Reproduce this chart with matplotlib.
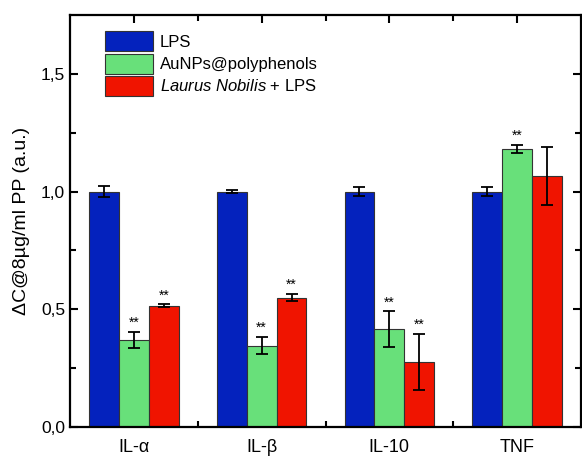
import matplotlib.pyplot as plt
import numpy as np
from matplotlib.ticker import FixedLocator, FuncFormatter

plt.rcParams['font.family'] = ['Liberation Sans', 'DejaVu Sans']
plt.rcParams['mathtext.fontset'] = 'custom'
plt.rcParams['mathtext.it'] = 'Liberation Sans:italic'
plt.rcParams['mathtext.rm'] = 'Liberation Sans'

# data
groups = ["IL-α", "IL-β", "IL-10", "TNF"]
series = ["LPS", "AuNPs@polyphenols", "$\\it{Laurus\\ Nobilis}$ + LPS"]
lps = [1.0, 1.0, 1.0, 1.0]
lps_err = [0.025, 0.005, 0.02, 0.02]
aunp = [0.37, 0.346, 0.415, 1.18]
aunp_err = [0.034, 0.037, 0.076, 0.018]
laurus = [0.516, 0.55, 0.277, 1.067]
laurus_err = [0.005, 0.015, 0.118, 0.123]
aunp_sig = ["**", "**", "**", "**"]
laurus_sig = ["**", "**", "**", ""]

colors = ["#0422BD", "#68E07A", "#F01400"]

fig = plt.figure(figsize=(5.82, 4.57), dpi=100)
ax = fig.add_axes([70/582, 30/457, 511/582, 412/457])

x = np.arange(1, len(groups) + 1)
w = 0.234
ekw = dict(elinewidth=1.3, capthick=1.3)
allvals = [(lps, lps_err), (aunp, aunp_err), (laurus, laurus_err)]
for i, (vals, errs) in enumerate(allvals):
    ax.bar(x + (i - 1) * w, vals, w, yerr=errs, color=colors[i], edgecolor="#333333",
           linewidth=0.8, capsize=4, error_kw=ekw, label=series[i], zorder=2)

for i in range(len(groups)):
    if aunp_sig[i]:
        ax.text(x[i], aunp[i] + aunp_err[i] + 0.008, aunp_sig[i], ha="center",
                va="bottom", fontsize=10)
    if laurus_sig[i]:
        ax.text(x[i] + w, laurus[i] + laurus_err[i] + 0.008, laurus_sig[i], ha="center",
                va="bottom", fontsize=10)

ax.set_xlim(0.5, 4.5)
ax.set_ylim(0, 1.75)
ax.set_xticks(x)
ax.set_xticklabels(groups, fontsize=13)
ax.xaxis.set_minor_locator(FixedLocator([1.5, 2.5, 3.5]))
ax.set_yticks([0, 0.5, 1.0, 1.5])
ax.yaxis.set_minor_locator(FixedLocator([0.25, 0.75, 1.25]))
ax.yaxis.set_major_formatter(FuncFormatter(lambda v, p: f"{v:.1f}".replace(".", ",")))
ax.tick_params(axis="y", labelsize=12.5)
ax.tick_params(which="both", direction="in", top=True, right=True, width=1.5)
ax.tick_params(which="major", length=6)
ax.tick_params(which="minor", length=4)
ax.tick_params(axis="x", pad=9)
for s in ax.spines.values():
    s.set_linewidth(1.6)

ax.set_ylabel("ΔC@8µg/ml PP (a.u.)", fontsize=14, labelpad=8)

ax.legend(loc="upper left", bbox_to_anchor=(0.068, 0.96), frameon=False, fontsize=12,
          handlelength=2.9, handleheight=1.45, handletextpad=0.4, labelspacing=0.15,
          borderaxespad=0, borderpad=0)

fig.savefig("out.png", dpi=100)
